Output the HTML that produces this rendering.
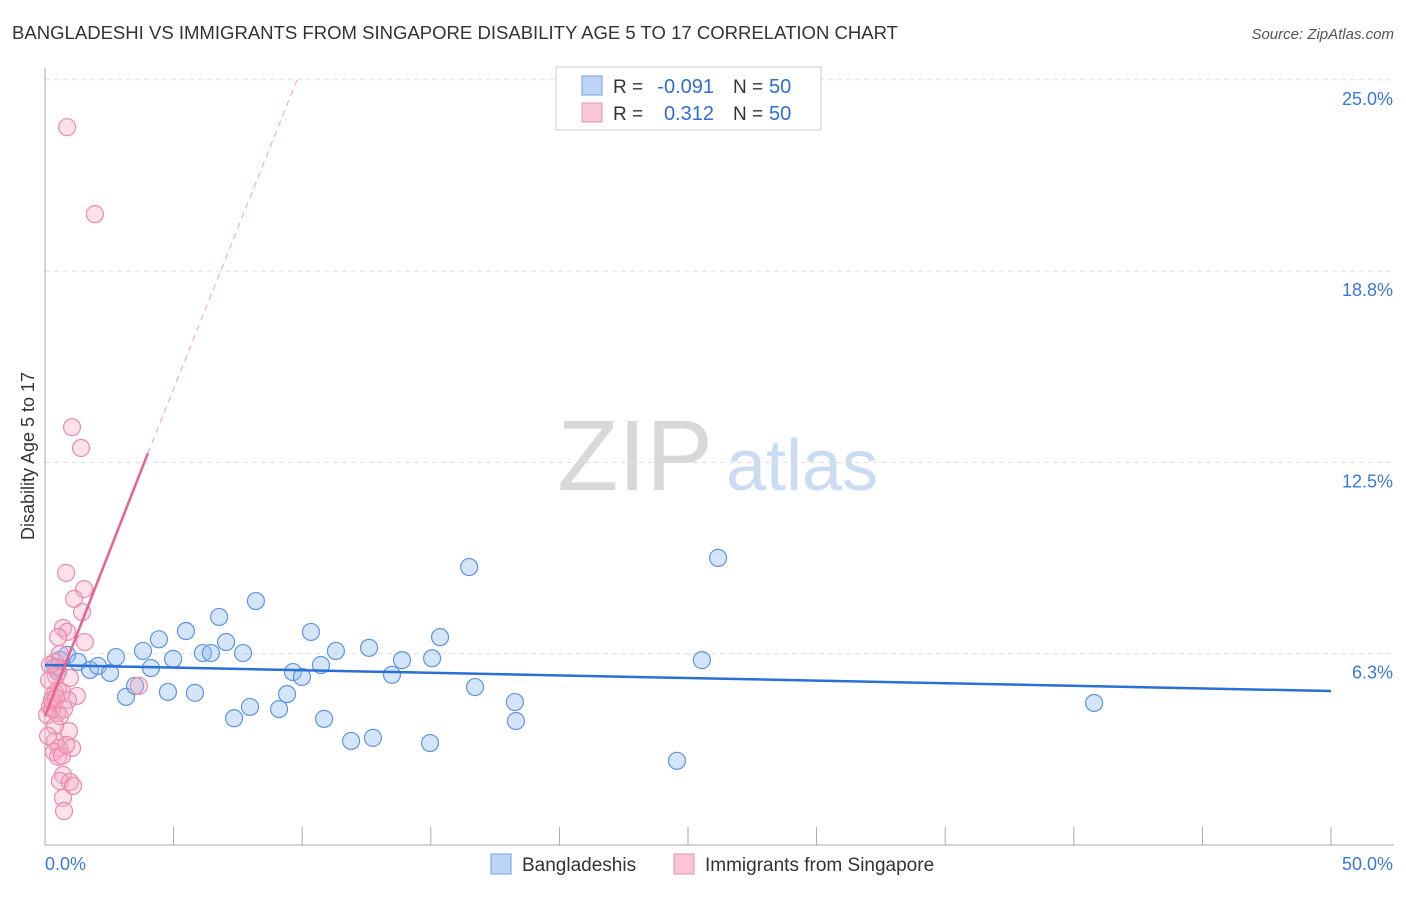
<!DOCTYPE html>
<html><head><meta charset="utf-8"><style>
body{margin:0;background:#fff;font-family:"Liberation Sans",sans-serif;}
svg text{font-family:"Liberation Sans",sans-serif;}
</style></head><body>
<svg width="1406" height="892" viewBox="0 0 1406 892" id="chart">
<text x="12" y="39" font-size="18" fill="#333" textLength="886" lengthAdjust="spacingAndGlyphs">BANGLADESHI VS IMMIGRANTS FROM SINGAPORE DISABILITY AGE 5 TO 17 CORRELATION CHART</text>
<text x="1394" y="39" font-size="15" fill="#555" text-anchor="end" font-style="italic">Source: ZipAtlas.com</text>
<g>
<text x="635" y="490" font-size="100" fill="#d8d8d8" font-family="Liberation Serif" text-anchor="middle">ZIP</text>
<text x="802" y="490" font-size="72" fill="#c9dcf4" text-anchor="middle">atlas</text>
</g>
<g id="grid"></g>
<g id="axes"></g>
<g id="marks"></g>
<text transform="translate(34,456) rotate(-90)" font-size="18" fill="#333" text-anchor="middle">Disability Age 5 to 17</text>
<g>
<rect x="556" y="67" width="265" height="63" fill="#fff" stroke="#ccc"/>
<rect x="582" y="76" width="20" height="19" fill="#bcd4f5" stroke="#6f9fe0"/>
<rect x="582" y="103" width="20" height="19" fill="#f9c6d6" stroke="#ee8fae"/>
<text x="613" y="93" font-size="19" fill="#333">R =</text>
<text x="714" y="93" font-size="20" fill="#2d6ed6" text-anchor="end">-0.091</text>
<text x="733" y="93" font-size="19" fill="#333">N =</text>
<text x="769" y="93" font-size="20" fill="#2d6ed6">50</text>
<text x="613" y="120" font-size="19" fill="#333">R =</text>
<text x="714" y="120" font-size="20" fill="#2d6ed6" text-anchor="end">0.312</text>
<text x="733" y="120" font-size="19" fill="#333">N =</text>
<text x="769" y="120" font-size="20" fill="#2d6ed6">50</text>
</g>
<g>
<rect x="491" y="854" width="20" height="20" fill="#bcd4f5" stroke="#6f9fe0"/>
<text x="522" y="871" font-size="19" fill="#333">Bangladeshis</text>
<rect x="674" y="854" width="20" height="20" fill="#f9c6d6" stroke="#ee8fae"/>
<text x="705" y="871" font-size="19" fill="#333">Immigrants from Singapore</text>
</g>
</svg>
<script>
const yTicks=[25,18.75,12.5,6.25];
const yTickLabels=["25.0%","18.8%","12.5%","6.3%"];
const xTicks=[0,5,10,15,20,25,30,35,40,45,50];
const blueX=[0.39,0.51,0.86,1.28,1.75,2.06,2.53,2.76,3.15,3.5,3.81,4.12,4.43,4.78,4.98,5.48,5.83,6.14,6.45,6.77,7.04,7.35,7.7,7.97,8.2,9.1,9.41,9.64,9.99,10.34,10.73,10.85,11.31,11.9,12.6,12.75,13.49,13.88,14.97,15.05,15.36,16.49,16.72,18.27,18.31,24.57,25.54,26.17,40.79,0.58];
const blueY=[5.82,5.66,6.21,5.98,5.72,5.85,5.62,6.14,4.84,5.2,6.34,5.78,6.72,5.0,6.08,6.99,4.97,6.27,6.27,7.45,6.63,4.14,6.27,4.51,7.97,4.44,4.93,5.65,5.49,6.96,5.88,4.12,6.34,3.4,6.44,3.5,5.56,6.04,3.33,6.1,6.79,9.08,5.16,4.67,4.05,2.75,6.04,9.38,4.64,6.05];
const pinkX=[0.86,1.94,1.05,1.4,0.82,1.52,1.13,1.44,0.7,0.86,0.51,1.55,0.58,0.39,0.47,0.43,0.97,0.51,0.39,1.24,0.89,0.31,0.19,0.47,0.08,0.58,0.27,0.93,0.39,0.54,1.05,0.35,0.51,0.66,0.7,0.58,0.97,1.09,0.7,0.74,3.65,0.16,0.27,0.39,0.12,0.66,0.19,0.82,0.43,0.74];
const pinkY=[23.45,20.61,13.65,12.97,8.89,8.36,8.04,7.61,7.09,6.96,6.79,6.63,6.24,5.98,5.78,5.52,5.46,5.06,4.97,4.87,4.74,4.64,4.51,4.31,4.25,4.21,4.44,3.72,3.4,3.17,3.17,3.04,2.88,2.91,2.29,2.09,2.06,1.93,1.54,1.11,5.2,5.39,4.74,3.89,3.56,5.0,5.88,3.27,4.8,4.44];
const blueTrend=[[0,5.88],[50,5.03]];
const pinkTrend=[[0,4.21],[4,12.8]];
const pinkTrendExt=[[4,12.8],[9.8,25]];
const NS="http://www.w3.org/2000/svg";
const X0=45,X1=1331,YB=845,PPY=30.61;
const sx=v=>X0+(v/50)*(X1-X0);
const sy=v=>YB-v*PPY;
function mk(tag,attrs,parent){const e=document.createElementNS(NS,tag);for(const k in attrs)e.setAttribute(k,attrs[k]);parent.appendChild(e);return e;}
const grid=document.getElementById('grid'),axes=document.getElementById('axes'),marks=document.getElementById('marks');
yTicks.forEach((t,i)=>{
 const l=mk('line',{x1:X0,x2:1394,y1:sy(t),y2:sy(t),stroke:'#ddd','stroke-dasharray':'5,4'},grid);
 
 
 const tx=mk('text',{x:1393,y:sy(t)+25,'font-size':18,fill:'#3a78d8','text-anchor':'end'},axes);
 tx.textContent=yTickLabels[i];
 
 
});
const ax=mk('line',{x1:X0,x2:X0,y1:68,y2:YB,stroke:'#aaa'},axes);


const bx=mk('line',{x1:X0,x2:1394,y1:YB,y2:YB,stroke:'#aaa'},axes);


xTicks.forEach(t=>{
 const l=mk('line',{x1:sx(t),x2:sx(t),y1:827,y2:YB,stroke:'#aaa'},axes);
 
 
});
[["0.0%",45,'start'],["50.0%",1393,'end']].forEach(a=>{
 const tx=mk('text',{x:a[1],y:870,'font-size':18,fill:'#3a78d8','text-anchor':a[2]},axes);
 tx.textContent=a[0];
 
 
});
blueX.forEach((v,i)=>{
 const c=mk('circle',{cx:sx(v),cy:sy(blueY[i]),r:8.5,fill:'rgba(150,190,240,0.4)',stroke:'#5f95de','stroke-width':1.2},marks);
 
 
});
pinkX.forEach((v,i)=>{
 const c=mk('circle',{cx:sx(v),cy:sy(pinkY[i]),r:8.5,fill:'rgba(245,170,195,0.35)',stroke:'#ec8aab','stroke-width':1.2},marks);
 
 
});
const bl=mk('line',{x1:sx(blueTrend[0][0]),y1:sy(blueTrend[0][1]),x2:sx(blueTrend[1][0]),y2:sy(blueTrend[1][1]),stroke:'#2a6fd4','stroke-width':2.5},marks);


const pl=mk('line',{x1:sx(pinkTrend[0][0]),y1:sy(pinkTrend[0][1]),x2:sx(pinkTrend[1][0]),y2:sy(pinkTrend[1][1]),stroke:'#e8628f','stroke-width':2.5},marks);


const pd=mk('line',{x1:sx(pinkTrendExt[0][0]),y1:sy(pinkTrendExt[0][1]),x2:sx(pinkTrendExt[1][0]),y2:sy(pinkTrendExt[1][1]),stroke:'#eea0b8','stroke-width':1,'stroke-dasharray':'6,5'},marks);


</script>
</body></html>
